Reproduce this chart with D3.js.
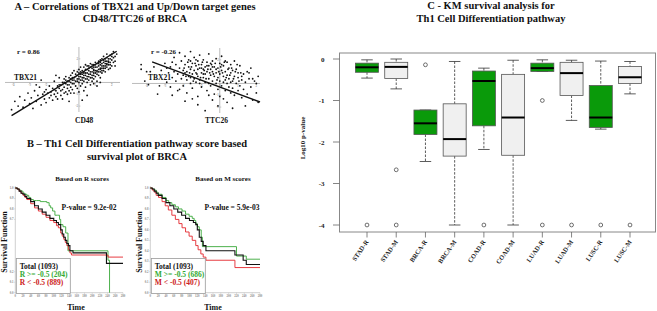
<!DOCTYPE html>
<html><head><meta charset="utf-8">
<script src="https://cdn.jsdelivr.net/npm/d3@7"></script>
<style>body{margin:0;background:#fff}svg text{font-family:"Liberation Serif","Times New Roman",serif;font-weight:bold}</style>
</head><body><svg id="c" width="657" height="311"></svg>
<script>
// ---------- Panel A data (expression z-scores) ----------
const cd48Points = [[-4.1,-2.3],[-3.9,-1.6],[-3.7,-2.0],[-3.6,-1.2],[-3.4,-2.1],[-3.3,-1.5],[-3.1,-0.9],[-3.0,-1.8],[-2.9,-1.3],[-2.8,-2.2],[-2.7,-0.7],[-2.6,-1.6],[-2.5,-1.1],[-2.4,-0.4],[-2.3,-1.9],[-2.2,-1.0],[-2.1,-1.4],[-2.0,-0.6],[-2.0,-1.7],[-1.9,-0.9],[-1.8,-1.3],[-1.8,-0.3],[-1.7,-0.8],[-1.6,-1.5],[-1.6,-0.5],[-1.5,-1.0],[-1.5,0.1],[-1.4,-0.7],[-1.4,-1.2],[-1.3,-0.3],[-1.3,-0.9],[-1.2,-0.5],[-1.2,0.4],[-1.1,-1.1],[-1.1,-0.2],[-1.0,-0.6],[-1.0,0.0],[-1.0,-1.4],[-0.9,-0.4],[-0.9,0.3],[-0.8,-0.8],[-0.8,-0.1],[-0.8,0.5],[-0.7,-0.5],[-0.7,0.1],[-0.7,-1.0],[-0.6,-0.2],[-0.6,0.4],[-0.6,-0.7],[-0.5,0.0],[-0.5,0.6],[-0.5,-0.4],[-0.4,0.2],[-0.4,-0.6],[-0.4,0.8],[-0.3,-0.1],[-0.3,0.4],[-0.3,-0.9],[-0.2,0.1],[-0.2,0.7],[-0.2,-0.3],[-0.1,0.3],[-0.1,-0.5],[-0.1,0.9],[0.0,0.0],[0.0,0.5],[0.0,-0.8],[0.0,1.1],[0.1,0.2],[0.1,0.7],[0.1,-0.3],[0.2,0.4],[0.2,1.0],[0.2,-0.1],[0.3,0.6],[0.3,0.1],[0.3,1.3],[0.4,0.3],[0.4,0.8],[0.4,-0.4],[0.5,0.5],[0.5,1.1],[0.5,0.0],[0.6,0.7],[0.6,0.2],[0.6,1.4],[0.7,0.9],[0.7,0.4],[0.7,-0.2],[0.8,0.6],[0.8,1.2],[0.8,0.1],[0.9,0.8],[0.9,1.5],[0.9,0.3],[1.0,1.0],[1.0,0.5],[1.0,1.7],[1.1,0.7],[1.1,1.3],[1.1,0.1],[1.2,1.1],[1.2,0.6],[1.2,1.8],[1.3,0.9],[1.3,1.5],[1.3,0.4],[1.4,1.2],[1.4,2.0],[1.4,0.8],[1.5,1.4],[1.5,1.0],[1.5,2.2],[1.6,1.6],[1.6,0.9],[1.6,1.2],[1.7,1.8],[1.7,1.3],[1.7,2.4],[1.8,1.5],[1.8,1.1],[1.8,2.0],[1.9,1.7],[1.9,2.3],[2.0,1.9],[2.0,1.4],[2.1,2.1],[2.1,2.6],[2.2,1.8],[2.3,2.4],[-1.4,0.6],[-2.3,0.2],[0.2,-1.5],[0.5,-1.1],[-0.6,-1.6],[1.1,-0.3],[-2.6,-0.2],[-0.3,1.0],[0.1,1.3],[0.4,1.5],[0.7,1.6],[0.9,1.1],[1.0,1.3],[1.2,1.4],[1.3,1.2],[1.4,1.6],[1.5,1.7],[1.6,2.0],[1.7,1.6],[1.8,1.8],[1.9,2.0],[2.0,2.2],[0.6,1.0],[0.8,0.9],[0.3,0.8],[-0.1,0.6],[-0.4,0.4],[1.1,1.0],[1.3,1.9],[0.5,0.8],[0.9,1.3],[1.6,1.4],
[-0.9,0.0],[-0.8,0.2],[-0.7,-0.2],[-0.6,0.1],[-0.5,0.3],[-0.4,-0.1],[-0.3,0.2],[-0.2,0.5],[-0.1,0.1],[0.0,0.3],[0.0,0.8],[0.1,0.5],[0.1,0.9],[0.2,0.7],[0.2,0.2],[0.3,0.9],[0.3,0.4],[0.4,0.6],[0.4,1.1],[0.5,0.3],[0.5,1.4],[0.6,0.5],[0.6,1.2],[0.7,0.7],[0.7,1.3],[0.8,0.4],[0.8,1.5],[0.9,0.6],[0.9,1.0],[1.0,0.8],[1.0,1.5],[1.1,0.9],[1.1,1.6],[1.2,0.9],[1.2,1.6],[1.3,1.1],[1.3,1.7],[1.4,1.0],[1.4,1.4],[1.5,1.2],[1.5,1.9],[1.6,1.8],[1.7,1.5],[1.7,2.1],[1.8,1.7],[1.9,1.5],[2.0,2.4],[2.1,1.7],[2.2,2.2],[-1.2,-0.2],[-1.1,-0.7],[-0.9,-0.9],[-1.3,-1.4],[-1.7,-1.1],[-2.1,-0.8],[-1.5,-0.6],[-0.5,-0.9],[0.3,-0.7],[0.9,-0.1],[1.3,0.0],[1.9,1.2],[2.2,1.4]];
const ttc26Points = [[-4.3,1.6],[-4.3,1.2],[-4.1,0.2],[-3.9,-0.1],[-3.8,1.0],[-3.6,1.4],[-3.3,-0.2],[-3.2,1.1],[-3.0,1.7],[-2.9,0.1],[-2.8,0.9],[-2.7,1.4],[-2.7,-0.3],[-2.6,0.5],[-2.5,2.2],[-2.5,1.0],[-2.4,0.2],[-2.4,1.6],[-2.3,-0.6],[-2.3,0.8],[-2.2,1.3],[-2.2,2.6],[-2.1,0.4],[-2.1,1.9],[-2.0,-0.2],[-2.0,1.1],[-2.0,0.7],[-1.9,1.6],[-1.9,2.3],[-1.8,0.3],[-1.8,1.0],[-1.8,-0.8],[-1.7,1.4],[-1.7,0.6],[-1.7,2.0],[-1.6,0.0],[-1.6,1.2],[-1.6,2.7],[-1.5,0.8],[-1.5,1.7],[-1.5,-0.4],[-1.4,0.4],[-1.4,1.1],[-1.4,2.2],[-1.3,1.5],[-1.3,0.1],[-1.3,0.9],[-1.2,1.9],[-1.2,0.6],[-1.2,-1.1],[-1.1,1.3],[-1.1,0.3],[-1.1,2.4],[-1.0,0.9],[-1.0,1.6],[-1.0,-0.3],[-0.9,1.2],[-0.9,0.5],[-0.9,2.0],[-0.8,0.1],[-0.8,1.4],[-0.8,0.8],[-0.7,1.8],[-0.7,-0.6],[-0.7,1.0],[-0.6,0.4],[-0.6,1.5],[-0.6,2.5],[-0.5,0.7],[-0.5,1.2],[-0.5,-0.2],[-0.4,1.9],[-0.4,0.2],[-0.4,1.0],[-0.3,1.4],[-0.3,0.6],[-0.3,-0.9],[-0.2,2.1],[-0.2,0.9],[-0.2,0.0],[-0.1,1.3],[-0.1,0.5],[-0.1,-0.5],[0.0,1.7],[0.0,0.8],[0.0,0.2],[0.1,1.1],[0.1,-0.2],[0.1,2.3],[0.2,0.6],[0.2,1.5],[0.2,-1.3],[0.3,0.3],[0.3,1.0],[0.3,-0.6],[0.4,1.8],[0.4,0.7],[0.4,0.0],[0.5,1.3],[0.5,-0.3],[0.5,0.4],[0.6,0.9],[0.6,-0.8],[0.6,1.6],[0.7,0.2],[0.7,1.1],[0.7,-0.4],[0.8,0.6],[0.8,1.9],[0.8,-1.0],[0.9,0.0],[0.9,1.2],[1.0,0.5],[1.0,-0.6],[1.0,0.9],[1.1,1.5],[1.1,-0.2],[1.2,0.3],[1.2,-1.2],[1.3,0.8],[1.3,-0.5],[1.4,0.1],[1.5,1.0],[1.5,-0.9],[1.6,0.4],[1.7,-0.3],[1.7,1.3],[1.8,-1.4],[1.9,0.2],[2.0,-0.8],[2.1,0.6],[2.1,-1.6],[-2.6,-1.0],[-1.9,-1.5],[-1.2,-1.8],[-0.8,-2.3],[-0.4,-1.4],[-0.1,-1.9],[0.4,-1.6],[0.7,-2.1],[-3.4,-0.9],[-1.5,-1.3],[0.0,-1.1],[1.4,-1.9],[-2.2,-0.5],[-0.6,-1.0],[-1.9,0.9],[-1.6,1.9],[-1.3,2.0],[-1.0,1.3],[-0.7,1.5],[-0.5,1.7],[-0.2,1.2],[0.1,1.6],[0.3,1.9],[-1.2,1.2],[-0.9,0.8],[-0.4,1.4],
[-1.95,1.3],[-1.85,0.6],[-1.75,1.8],[-1.65,0.9],[-1.55,1.4],[-1.45,0.2],[-1.35,1.7],[-1.25,0.8],[-1.15,1.6],[-1.05,0.5],[-0.95,1.8],[-0.85,1.1],[-0.75,0.4],[-0.65,1.2],[-0.55,0.9],[-0.45,1.6],[-0.35,0.8],[-0.25,1.7],[-0.15,0.3],[-0.05,1.0],[0.05,1.4],[0.15,0.9],[0.25,1.8],[0.35,0.5],[0.45,1.2],[0.55,0.7],[0.65,1.3],[0.75,0.4],[0.85,1.0],[0.95,1.6],[1.05,0.2],[1.15,0.9],[-1.6,0.5],[-1.1,0.0],[-0.6,0.0],[0.2,0.1],[0.6,0.1],[1.2,0.6],[1.6,0.9],[1.8,0.4],[2.0,0.0],[-2.6,1.8],[-2.9,1.3],[-4.0,1.0]];
const corrTicks = [-4,-3,-2,-1,0,1,2];
const corrR = ["r = 0.86","r = -0.26"];
const corrGenes = ["CD48","TTC26"];
const cd48Fit = [[-4.1,-2.8],[2.3,2.64]];
const ttc26Fit = [[-3.7,1.82],[2.2,-1.57]];

// ---------- Panel B data (Kaplan-Meier) ----------
const timeTicks = [0,20,40,60,80,100,120,140,160,180,200,220,240,260,280];
const survTicksR = [0,0.1,0.2,0.7,0.8,0.9,1.0];
const survTicksM = [0,0.1,0.2,0.3,0.4,0.5,0.6,0.7,0.8,0.9,1.0];
const kmRHighT = [0,5,10,15,20,25,30,35,40,47,55,65,75,82,88,92,97,103,110,115,118,124,131,137,241,245];
const kmRHighS = [1,0.99,0.98,0.97,0.95,0.94,0.93,0.91,0.89,0.88,0.88,0.87,0.87,0.86,0.83,0.81,0.78,0.74,0.74,0.70,0.65,0.63,0.57,0.40,0.31,0.0];
const kmRTotT = [0,5,10,15,20,25,30,40,50,60,70,80,90,100,107,112,118,122,126,130,134,138,142,150,237,280];
const kmRTotS = [1,0.99,0.97,0.95,0.94,0.92,0.90,0.87,0.83,0.80,0.77,0.74,0.71,0.69,0.67,0.65,0.60,0.56,0.53,0.50,0.47,0.45,0.40,0.38,0.28,0.28];
const kmRLowT = [0,5,10,15,20,25,30,40,50,60,70,80,90,100,107,112,118,122,126,130,134,138,142,146,241,280];
const kmRLowS = [1,0.99,0.97,0.95,0.93,0.91,0.89,0.85,0.81,0.78,0.75,0.72,0.69,0.67,0.64,0.62,0.57,0.54,0.51,0.48,0.45,0.41,0.38,0.36,0.34,0.34];
const kmMHighT = [0,5,10,15,20,30,40,47,55,64,72,81,90,99,107,112,116,120,125,130,133,220,245,280];
const kmMHighS = [1,0.99,0.98,0.96,0.94,0.91,0.88,0.86,0.84,0.82,0.80,0.78,0.75,0.73,0.71,0.69,0.66,0.63,0.60,0.53,0.44,0.35,0.32,0.32];
const kmMTotT = [0,5,10,15,20,30,40,50,60,70,80,90,100,110,116,120,125,130,135,142,216,237,245,280];
const kmMTotS = [1,0.99,0.97,0.95,0.93,0.90,0.86,0.83,0.80,0.77,0.74,0.71,0.69,0.67,0.65,0.60,0.53,0.49,0.45,0.40,0.36,0.31,0.27,0.27];
const kmMLowT = [0,5,10,15,21,30,38,46,55,64,73,81,90,99,107,116,122,129,135,142,216,280];
const kmMLowS = [1,0.98,0.96,0.93,0.91,0.87,0.83,0.79,0.74,0.70,0.66,0.62,0.58,0.54,0.50,0.45,0.41,0.37,0.34,0.31,0.24,0.24];
const kmTitles = ["Based on R scores","Based on M scores"];
const kmPvalues = ["P-value = 9.2e-02","P-value = 5.9e-03"];
const kmLegendR = ["Total (1093)","R >= -0.5 (204)","R < -0.5 (889)"];
const kmLegendM = ["Total (1093)","M >= -0.5 (686)","M < -0.5 (407)"];

// ---------- Panel C data (log10 p-value boxplots) ----------
const boxCategories = ["STAD-R","STAD-M","BRCA-R","BRCA-M","COAD-R","COAD-M","LUAD-R","LUAD-M","LUSC-R","LUSC-M"];
const boxWhiskerHigh = [-0.02,0.0,-1.23,-0.06,-0.22,-0.03,-0.02,-0.03,-0.05,-0.06];
const boxQ3 = [-0.10,-0.08,-1.23,-1.08,-0.29,-0.37,-0.10,-0.08,-0.64,-0.18];
const boxMedian = [-0.20,-0.19,-1.55,-1.93,-0.53,-1.41,-0.22,-0.34,-1.41,-0.44];
const boxQ1 = [-0.32,-0.47,-1.82,-2.34,-1.61,-2.32,-0.30,-0.88,-1.65,-0.59];
const boxWhiskerLow = [-0.46,-0.72,-2.47,-4.0,-2.18,-4.0,-0.30,-1.48,-1.69,-0.84];
const boxOutliers = [[-4],[-2.67,-4],[-0.14],[],[-4],[],[-1.0,-4],[-4],[-4],[-4]];
const logTicks = [0,-1,-2,-3,-4];

const GREEN_BOX = "#0a9a0a", GRAY_BOX = "#f0f0f0";
const KM_GREEN = "#3aa83a", KM_RED = "#e4262c", KM_BLACK = "#111";

const svg = d3.select("#c");

// ===== Titles =====
function title(lines, cx, y0){
  lines.forEach((t,i)=>svg.append("text").attr("x",cx).attr("y",y0+i*12.5)
    .attr("text-anchor","middle").attr("font-size",10.5).attr("fill","#111").text(t));
}
title(["A \u2013 Correlations of TBX21 and Up/Down target genes","CD48/TTC26 of BRCA"],135,9.5);
title(["B \u2013 Th1 Cell Differentiation pathway score based","survival plot of BRCA"],137,147);
title(["C - KM survival analysis for","Th1 Cell Differentiation pathway"],491,9);

// ===== Panel A scatter plots =====
function scatter(pts, fit, xdom, xr, yr, rLabel, gene, rX, geneX){
  const x = d3.scaleLinear().domain(xdom).range(xr);
  const y = d3.scaleLinear().domain([-2.5,3]).range(yr);
  const g = svg.append("g");
  g.append("line").attr("x1",xr[0]).attr("x2",xr[1]).attr("y1",y(0)).attr("y2",y(0)).attr("stroke","#aaa").attr("stroke-width",0.8);
  g.append("line").attr("x1",x(0)).attr("x2",x(0)).attr("y1",yr[1]).attr("y2",yr[0]).attr("stroke","#aaa").attr("stroke-width",0.8);
  corrTicks.forEach(t=>{
    g.append("line").attr("x1",x(t)).attr("x2",x(t)).attr("y1",y(0)).attr("y2",y(0)+1.5).attr("stroke","#aaa").attr("stroke-width",0.6);
    g.append("text").attr("x",x(t)).attr("y",y(0)+4).attr("font-size",3).attr("fill","#999").attr("text-anchor","middle").attr("font-weight","normal").text(t);
  });
  [-2,-1,1,2].forEach(t=>{
    g.append("line").attr("x1",x(0)).attr("x2",x(0)+1.5).attr("y1",y(t)).attr("y2",y(t)).attr("stroke","#aaa").attr("stroke-width",0.6);
    g.append("text").attr("x",x(0)-1).attr("y",y(t)+1).attr("font-size",3).attr("fill","#999").attr("text-anchor","end").attr("font-weight","normal").text(t);
  });
  g.selectAll("circle").data(pts).join("circle").attr("cx",d=>x(d[0])).attr("cy",d=>y(d[1])).attr("r",0.9).attr("fill","#111");
  g.append("line").attr("x1",x(fit[0][0])).attr("y1",y(fit[0][1])).attr("x2",x(fit[1][0])).attr("y2",y(fit[1][1])).attr("stroke","#111").attr("stroke-width",1.4);
  g.append("text").attr("x",rX).attr("y",53.5).attr("font-size",7).attr("fill","#111").text(rLabel);
  g.append("text").attr("x",rX-3).attr("y",79.5).attr("font-size",7.5).attr("fill","#111").text("TBX21");
  g.append("text").attr("x",geneX).attr("y",123).attr("font-size",7.5).attr("fill","#111").text(gene);
}
scatter(cd48Points, cd48Fit, [-4.5,2.5], [5,120], [112,47], corrR[0], corrGenes[0], 17, 75);
scatter(ttc26Points, ttc26Fit, [-4.8,2.2], [132,260], [113,48], corrR[1], corrGenes[1], 151, 205);

// ===== Panel B KM plots =====
function km(x0, x1, curves, yTicks, ttl, pv, leg, titleX, pvX, timeX, sfX){
  const x = d3.scaleLinear().domain([0,280]).range([x0,x1]);
  const y = d3.scaleLinear().domain([0,1]).range([292.7,188]);
  const g = svg.append("g");
  g.append("line").attr("x1",x0).attr("x2",x1).attr("y1",y(0)).attr("y2",y(0)).attr("stroke","#bbb").attr("stroke-width",0.7);
  g.append("line").attr("x1",x0).attr("x2",x0).attr("y1",y(0)).attr("y2",y(1)-2).attr("stroke","#bbb").attr("stroke-width",0.7);
  timeTicks.forEach(t=>{
    g.append("line").attr("x1",x(t)).attr("x2",x(t)).attr("y1",y(0)).attr("y2",y(0)+1.2).attr("stroke","#bbb").attr("stroke-width",0.5);
    g.append("text").attr("x",x(t)).attr("y",y(0)+4.5).attr("font-size",3).attr("fill","#888").attr("font-weight","normal").attr("text-anchor","middle").text(t);
  });
  yTicks.forEach(t=>{
    g.append("line").attr("x1",x0-1.2).attr("x2",x0).attr("y1",y(t)).attr("y2",y(t)).attr("stroke","#bbb").attr("stroke-width",0.5);
    g.append("text").attr("x",x0-1.8).attr("y",y(t)+1).attr("font-size",3).attr("fill","#888").attr("font-weight","normal").attr("text-anchor","end").text(t.toFixed(1));
  });
  const line = d3.line().x(d=>x(d[0])).y(d=>y(d[1])).curve(d3.curveStepAfter);
  curves.forEach(c=>{
    const pts = c.t.map((t,i)=>[t,c.s[i]]);
    g.append("path").attr("d",line(pts)).attr("fill","none").attr("stroke",c.color).attr("stroke-width",c.w);
  });
  g.append("text").attr("x",titleX).attr("y",181).attr("font-size",7).attr("text-anchor","middle").attr("fill","#111").text(ttl);
  g.append("text").attr("x",pvX).attr("y",209.5).attr("font-size",7.5).attr("text-anchor","middle").attr("fill","#111").text(pv);
  g.append("text").attr("x",timeX).attr("y",310).attr("font-size",8).attr("text-anchor","middle").attr("fill","#111").text("Time");
  g.append("text").attr("transform",`translate(${sfX},242) rotate(-90)`).attr("font-size",8).attr("text-anchor","middle").attr("fill","#111").text("Survival Function");
  g.append("rect").attr("x",x0+1).attr("y",258.5).attr("width",54).attr("height",35).attr("fill","#fff").attr("stroke","#999").attr("stroke-width",0.8);
  const cols = ["#111","#33aa33","#cc2020"];
  leg.forEach((t,i)=>g.append("text").attr("x",x0+4.5).attr("y",268.5+i*8.3).attr("font-size",7.5).attr("fill",cols[i]).text(t));
}
km(15.3,123,[
  {t:kmRHighT,s:kmRHighS,color:KM_GREEN,w:0.9},
  {t:kmRLowT,s:kmRLowS,color:KM_RED,w:0.9},
  {t:kmRTotT,s:kmRTotS,color:KM_BLACK,w:1.1}],
  survTicksR, kmTitles[0], kmPvalues[0], kmLegendR, 82, 89, 76, 7);
km(150.3,260,[
  {t:kmMHighT,s:kmMHighS,color:KM_GREEN,w:0.9},
  {t:kmMLowT,s:kmMLowS,color:KM_RED,w:0.9},
  {t:kmMTotT,s:kmMTotS,color:KM_BLACK,w:1.1}],
  survTicksM, kmTitles[1], kmPvalues[1], kmLegendM, 223, 232, 213, 142);

// ===== Panel C boxplots =====
const bx = d3.scalePoint().domain(boxCategories).range([367,630]);
const by = d3.scaleLinear().domain([-4,0]).range([225,59]);
const gC = svg.append("g");
gC.append("rect").attr("x",339.5).attr("y",53).attr("width",316).attr("height",179).attr("fill","none").attr("stroke","#888").attr("stroke-width",1);
logTicks.forEach(t=>{
  gC.append("line").attr("x1",333).attr("x2",339.5).attr("y1",by(t)).attr("y2",by(t)).attr("stroke","#666").attr("stroke-width",0.8);
  gC.append("text").attr("x",324.5).attr("y",by(t)+2.5).attr("font-size",7).attr("text-anchor","end").attr("fill","#222").text(t);
});
gC.append("text").attr("transform","translate(304.5,138) rotate(-90)").attr("font-size",7).attr("text-anchor","middle").attr("fill","#222").text("Log10 p-value");
const bw = 23, cw = 11.5;
boxCategories.forEach((c,i)=>{
  const cx = bx(c);
  const isR = c.endsWith("-R");
  gC.append("line").attr("x1",cx).attr("x2",cx).attr("y1",by(boxWhiskerHigh[i])).attr("y2",by(boxQ3[i])).attr("stroke","#333").attr("stroke-width",0.8).attr("stroke-dasharray","2.5,1.5");
  gC.append("line").attr("x1",cx).attr("x2",cx).attr("y1",by(boxQ1[i])).attr("y2",by(boxWhiskerLow[i])).attr("stroke","#333").attr("stroke-width",0.8).attr("stroke-dasharray","2.5,1.5");
  gC.append("line").attr("x1",cx-cw/2).attr("x2",cx+cw/2).attr("y1",by(boxWhiskerHigh[i])).attr("y2",by(boxWhiskerHigh[i])).attr("stroke","#333").attr("stroke-width",0.8);
  gC.append("line").attr("x1",cx-cw/2).attr("x2",cx+cw/2).attr("y1",by(boxWhiskerLow[i])).attr("y2",by(boxWhiskerLow[i])).attr("stroke","#333").attr("stroke-width",0.8);
  gC.append("rect").attr("x",cx-bw/2).attr("y",by(boxQ3[i])).attr("width",bw).attr("height",by(boxQ1[i])-by(boxQ3[i]))
    .attr("fill",isR?GREEN_BOX:GRAY_BOX).attr("stroke","#555").attr("stroke-width",0.8);
  gC.append("line").attr("x1",cx-bw/2).attr("x2",cx+bw/2).attr("y1",by(boxMedian[i])).attr("y2",by(boxMedian[i])).attr("stroke","#000").attr("stroke-width",2);
  boxOutliers[i].forEach(o=>gC.append("circle").attr("cx",cx).attr("cy",by(o)).attr("r",1.9).attr("fill","none").attr("stroke","#333").attr("stroke-width",0.7));
  gC.append("line").attr("x1",cx).attr("x2",cx).attr("y1",232).attr("y2",237.5).attr("stroke","#666").attr("stroke-width",0.8);
  gC.append("text").attr("transform",`translate(${cx+2},242) rotate(-55)`).attr("font-size",6.5).attr("text-anchor","end").attr("fill","#222").text(c);
});
</script></body></html>
